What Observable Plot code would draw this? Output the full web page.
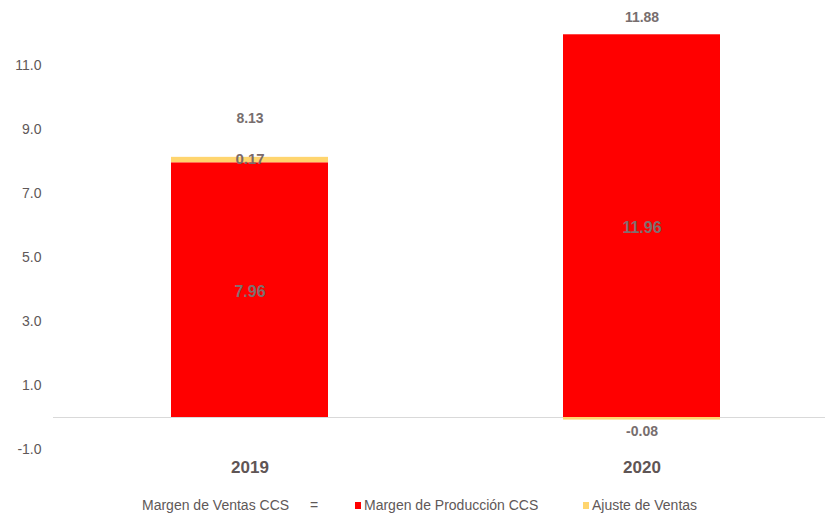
<!DOCTYPE html>
<html>
<head>
<meta charset="utf-8">
<script src="https://cdn.jsdelivr.net/npm/d3@7"></script>
<script src="https://cdn.jsdelivr.net/npm/@observablehq/plot@0.6"></script>
<style>
  body { margin: 0; background: #fff; font-family: "Liberation Sans", Arial, sans-serif; }
  #wrap { position: relative; width: 825px; height: 514px; overflow: hidden; }
  #legend { position: absolute; top: 497px; left: 0; width: 825px; height: 18px; font-size: 14px; color: #605858; }
  #legend span { position: absolute; top: 0; white-space: nowrap; }
  .sw { display: inline-block; width: 6px; height: 7px; margin-right: 3px; vertical-align: 1px; }
</style>
</head>
<body>
<div id="wrap">
  <div id="chart"></div>
  <div id="legend"></div>
</div>
<script>
const years = ["2019", "2020"];
const produccion = [7.96, 11.96];
const ajuste = [0.17, -0.08];
const totals = [8.13, 11.88];
const seriesNames = ["Margen de Producción CCS", "Ajuste de Ventas"];
const seriesColors = ["#FF0000", "#FFD56E"];
const yTicks = [-1, 1, 3, 5, 7, 9, 11];
const legendPrefix = "Margen de Ventas CCS";

const rows = [];
years.forEach((y, i) => {
  rows.push({year: y, series: seriesNames[0], value: produccion[i]});
  rows.push({year: y, series: seriesNames[1], value: ajuste[i]});
});
const totalRows = years.map((y, i) => ({year: y, total: totals[i]}));
const prodRows = rows.filter(d => d.series === seriesNames[0]);
const ajRows = rows.filter(d => d.series === seriesNames[1]);

const textColor = "#605858";
const font = "Liberation Sans, Arial, sans-serif";

const chart = Plot.plot({
  width: 825,
  height: 496,
  marginLeft: 53,
  marginRight: 0,
  marginTop: 1,
  marginBottom: 47,
  style: {fontFamily: font, background: "#fff"},
  x: {domain: years, range: [53, 837], paddingInner: 0.6, paddingOuter: 0.3, label: null},
  y: {domain: [-1, 13], label: null},
  color: {domain: seriesNames, range: seriesColors},
  marks: [
    Plot.ruleY([0], {stroke: "#d9d9d9", strokeWidth: 1}),
    Plot.barY(rows, Plot.stackY({x: "year", y: "value", fill: "series", order: seriesNames})),
    Plot.text(prodRows, {x: "year", y: d => d.value / 2, text: d => d.value.toFixed(2), fill: "#7f6f6f", fontSize: 16, fontWeight: "bold", dy: 2}),
    Plot.text(ajRows.filter(d => d.value > 0), {x: "year", y: (d) => produccion[years.indexOf(d.year)] + d.value, text: d => d.value.toFixed(2), fill: "#7a6a6a", fontSize: 15, fontWeight: "bold", dy: 2}),
    Plot.text(ajRows.filter(d => d.value < 0), {x: "year", y: d => d.value, text: d => d.value.toFixed(2), fill: "#776e6e", fontSize: 14, fontWeight: "bold", dy: 11}),
    Plot.text(totalRows.filter(d => d.year === "2019"), {x: "year", y: "total", text: d => d.total.toFixed(2), fill: "#776e6e", fontSize: 14, fontWeight: "bold", dy: -39}),
    Plot.text(totalRows.filter(d => d.year === "2020"), {x: "year", y: "total", text: d => d.total.toFixed(2), fill: "#776e6e", fontSize: 14, fontWeight: "bold", dy: -20}),
    Plot.axisY({ticks: yTicks, tickFormat: d => d.toFixed(1), tickSize: 0, tickPadding: 12, fontSize: 14, color: textColor}),
    Plot.axisX({tickSize: 0, tickPadding: 11, fontSize: 17, fontWeight: "bold", color: "#5f5555"})
  ]
});
document.getElementById("chart").appendChild(chart);

const legend = document.getElementById("legend");
const items = [
  {html: legendPrefix, left: 142},
  {html: "=", left: 310},
  {html: `<i class="sw" style="background:${seriesColors[0]}"></i>${seriesNames[0]}`, left: 355},
  {html: `<i class="sw" style="background:${seriesColors[1]}"></i>${seriesNames[1]}`, left: 583}
];
items.forEach(it => {
  const s = document.createElement("span");
  s.style.left = it.left + "px";
  s.innerHTML = it.html;
  legend.appendChild(s);
});
</script>
</body>
</html>
